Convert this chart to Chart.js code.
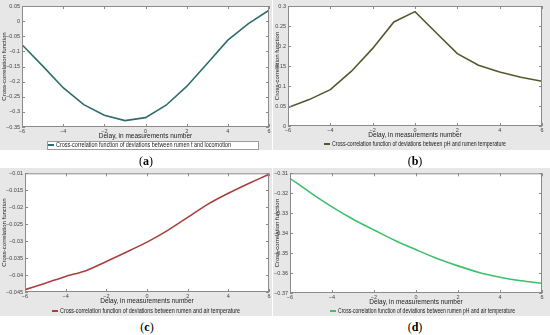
<!DOCTYPE html>
<html>
<head>
<title>Cross-correlation functions</title>
<script src="https://cdn.jsdelivr.net/npm/chart.js"></script>
<style>
    body {
        margin: 0;
        width: 550px;
        height: 335px;
        background: #fff;
        position: relative;
        overflow: hidden;
        font-family: "Liberation Sans", Arial, sans-serif;
    }
    .panel {
        position: absolute;
        background: #e7e7e7;
    }
    .caption {
        position: absolute;
        font-family: "Liberation Serif", serif;
        font-size: 12px;
        transform: translateX(-50%);
        color: #000;
    }
</style>
</head>
<body>
<div class="panel" style="left:0;top:0;width:272px;height:150px"><canvas id="chartA"></canvas></div>
<div class="panel" style="left:273px;top:0;width:277px;height:150px"><canvas id="chartB"></canvas></div>
<div class="panel" style="left:0;top:168px;width:272px;height:148px"><canvas id="chartC"></canvas></div>
<div class="panel" style="left:273px;top:168px;width:277px;height:148px"><canvas id="chartD"></canvas></div>
<div class="caption" style="left:146px;top:154px">(<b>a</b>)</div>
<div class="caption" style="left:415px;top:154px">(<b>b</b>)</div>
<div class="caption" style="left:147px;top:320px">(<b>c</b>)</div>
<div class="caption" style="left:415px;top:320px">(<b>d</b>)</div>

<script>
    const delays = [-6, -5, -4, -3, -2, -1, 0, 1, 2, 3, 4, 5, 6];
    const ccfTempLocomotion = [-0.078, -0.148, -0.220, -0.276, -0.311, -0.329, -0.319, -0.278, -0.216, -0.140, -0.063, -0.008, 0.036];
    const ccfPhTemp = [0.046, 0.066, 0.091, 0.137, 0.194, 0.260, 0.286, 0.233, 0.181, 0.152, 0.135, 0.122, 0.112];
    const ccfRumenAir = [-0.0443, -0.0424, -0.0404, -0.0387, -0.0360, -0.0332, -0.0303, -0.0269, -0.0230, -0.0191, -0.0159, -0.0130, -0.0103];
    const ccfPhAir = [-0.3125, -0.3199, -0.3268, -0.3330, -0.3384, -0.3437, -0.3483, -0.3527, -0.3564, -0.3597, -0.3621, -0.3639, -0.3651];

    // Tick labels
    const delayTicks = [-6, -4, -2, 0, 2, 4, 6];
    const ticksA = [-0.35, -0.3, -0.25, -0.2, -0.15, -0.1, -0.05, 0, 0.05];
    const ticksB = [0, 0.05, 0.1, 0.15, 0.2, 0.25, 0.3];
    const ticksC = [-0.045, -0.04, -0.035, -0.03, -0.025, -0.02, -0.015, -0.01];
    const ticksD = [-0.37, -0.36, -0.35, -0.34, -0.33, -0.32, -0.31];

    const xTitle = 'Delay, in measurements number';
    const yTitle = 'Cross-correlation function';

    // White axes box, inward ticks on all sides and a MATLAB-like legend
    const matlabFrame = {
        id: 'matlabFrame',
        beforeDraw(chart) {
            const a = chart.chartArea;
            chart.ctx.save();
            chart.ctx.fillStyle = '#fff';
            chart.ctx.fillRect(a.left, a.top, a.width, a.height);
            chart.ctx.restore();
        },
        afterDraw(chart, args, opts) {
            const ctx = chart.ctx;
            const a = chart.chartArea;
            const x = chart.scales.x, y = chart.scales.y;
            ctx.save();
            ctx.strokeStyle = '#8a8a8a';
            ctx.lineWidth = 1;
            ctx.strokeRect(a.left + 0.5, a.top + 0.5, a.width - 1, a.height - 1);
            ctx.beginPath();
            x.ticks.forEach(t => {
                const px = Math.round(x.getPixelForValue(t.value)) + 0.5;
                ctx.moveTo(px, a.bottom); ctx.lineTo(px, a.bottom - 3);
                ctx.moveTo(px, a.top); ctx.lineTo(px, a.top + 3);
            });
            y.ticks.forEach(t => {
                const py = Math.round(y.getPixelForValue(t.value)) + 0.5;
                ctx.moveTo(a.left, py); ctx.lineTo(a.left + 3, py);
                ctx.moveTo(a.right, py); ctx.lineTo(a.right - 3, py);
            });
            ctx.stroke();

            // legend
            const ds = chart.data.datasets[0];
            const ly = a.bottom + opts.legendY;
            if (opts.box) {
                ctx.fillStyle = '#fff';
                ctx.fillRect(opts.box[0], ly - 4, opts.box[1] - opts.box[0], 8);
                ctx.strokeStyle = '#9a9a9a';
                ctx.strokeRect(opts.box[0] + 0.5, ly - 4 + 0.5, opts.box[1] - opts.box[0], 8);
            }
            ctx.strokeStyle = ds.borderColor;
            ctx.lineWidth = 2;
            ctx.beginPath();
            ctx.moveTo(opts.lineX, ly);
            ctx.lineTo(opts.lineX + 6, ly);
            ctx.stroke();
            ctx.fillStyle = '#222';
            ctx.font = '7px "Liberation Sans", Arial, sans-serif';
            ctx.textBaseline = 'middle';
            ctx.fillText(ds.label, opts.lineX + 8, ly + 0.5, opts.textWidth);
            ctx.restore();
        }
    };

    function fmt(v) {
        return String(v).replace('-', '\u2212');
    }

    function makeChart(id, cfg) {
        const ctx = document.getElementById(id).getContext('2d');
        return new Chart(ctx, {
            type: 'line',
            data: {
                datasets: [{
                    label: cfg.label,
                    data: delays.map((d, i) => ({ x: d, y: cfg.values[i] })),
                    borderColor: cfg.color,
                    borderWidth: 1.6,
                    pointRadius: 0,
                    tension: cfg.tension,
                    fill: false
                }]
            },
            options: {
                responsive: true,
                maintainAspectRatio: false,
                animation: false,
                layout: { padding: cfg.padding },
                plugins: {
                    legend: { display: false },
                    tooltip: { enabled: false },
                    matlabFrame: cfg.legend
                },
                scales: {
                    x: {
                        type: 'linear',
                        min: -6,
                        max: 6,
                        afterBuildTicks: s => { s.ticks = delayTicks.map(v => ({ value: v })); },
                        afterFit: s => { s.height = 14; },
                        grid: { display: false, drawTicks: false },
                        border: { display: false },
                        ticks: {
                            padding: 1,
                            maxRotation: 0,
                            color: '#444',
                            font: { size: 5.5 },
                            callback: v => fmt(v)
                        },
                        title: {
                            display: true,
                            text: xTitle,
                            color: '#222',
                            font: { size: 6.5 },
                            padding: { top: 0, bottom: 1 }
                        }
                    },
                    y: {
                        min: cfg.ticks[0],
                        max: cfg.ticks[cfg.ticks.length - 1],
                        afterBuildTicks: s => { s.ticks = cfg.ticks.map(v => ({ value: v })); },
                        afterFit: s => { s.width = cfg.yWidth; },
                        grid: { display: false, drawTicks: false },
                        border: { display: false },
                        ticks: {
                            padding: 2,
                            color: '#444',
                            font: { size: 5.5 },
                            callback: v => fmt(v)
                        },
                        title: {
                            display: true,
                            text: yTitle,
                            color: '#222',
                            font: { size: 6 },
                            padding: { top: 1, bottom: 0 }
                        }
                    }
                }
            },
            plugins: [matlabFrame]
        });
    }

    makeChart('chartA', {
        label: 'Cross-correlation function of deviations between rumen t and locomotion',
        values: ccfTempLocomotion,
        color: '#2e6d6a',
        tension: 0,
        ticks: ticksA,
        yWidth: 22,
        padding: { top: 6, right: 3, bottom: 9, left: 0 },
        legend: { legendY: 18, lineX: 48, textWidth: 175, box: [47, 258] }
    });

    makeChart('chartB', {
        label: 'Cross-correlation function of deviations between pH and rumen temperature',
        values: ccfPhTemp,
        color: '#58572c',
        tension: 0,
        ticks: ticksB,
        yWidth: 15,
        padding: { top: 6, right: 8, bottom: 10, left: 0 },
        legend: { legendY: 18, lineX: 51, textWidth: 174, box: null }
    });

    makeChart('chartC', {
        label: 'Cross-correlation function of deviations between rumen and air temperature',
        values: ccfRumenAir,
        color: '#a8413e',
        tension: 0.2,
        ticks: ticksC,
        yWidth: 25,
        padding: { top: 5, right: 3, bottom: 10, left: 0 },
        legend: { legendY: 19, lineX: 52, textWidth: 180, box: null }
    });

    makeChart('chartD', {
        label: 'Cross-correlation function of deviations between rumen pH and air temperature',
        values: ccfPhAir,
        color: '#3cc06c',
        tension: 0.3,
        ticks: ticksD,
        yWidth: 17,
        padding: { top: 4, right: 8, bottom: 9, left: 0 },
        legend: { legendY: 18, lineX: 57, textWidth: 177, box: null }
    });
</script>
</body>
</html>
